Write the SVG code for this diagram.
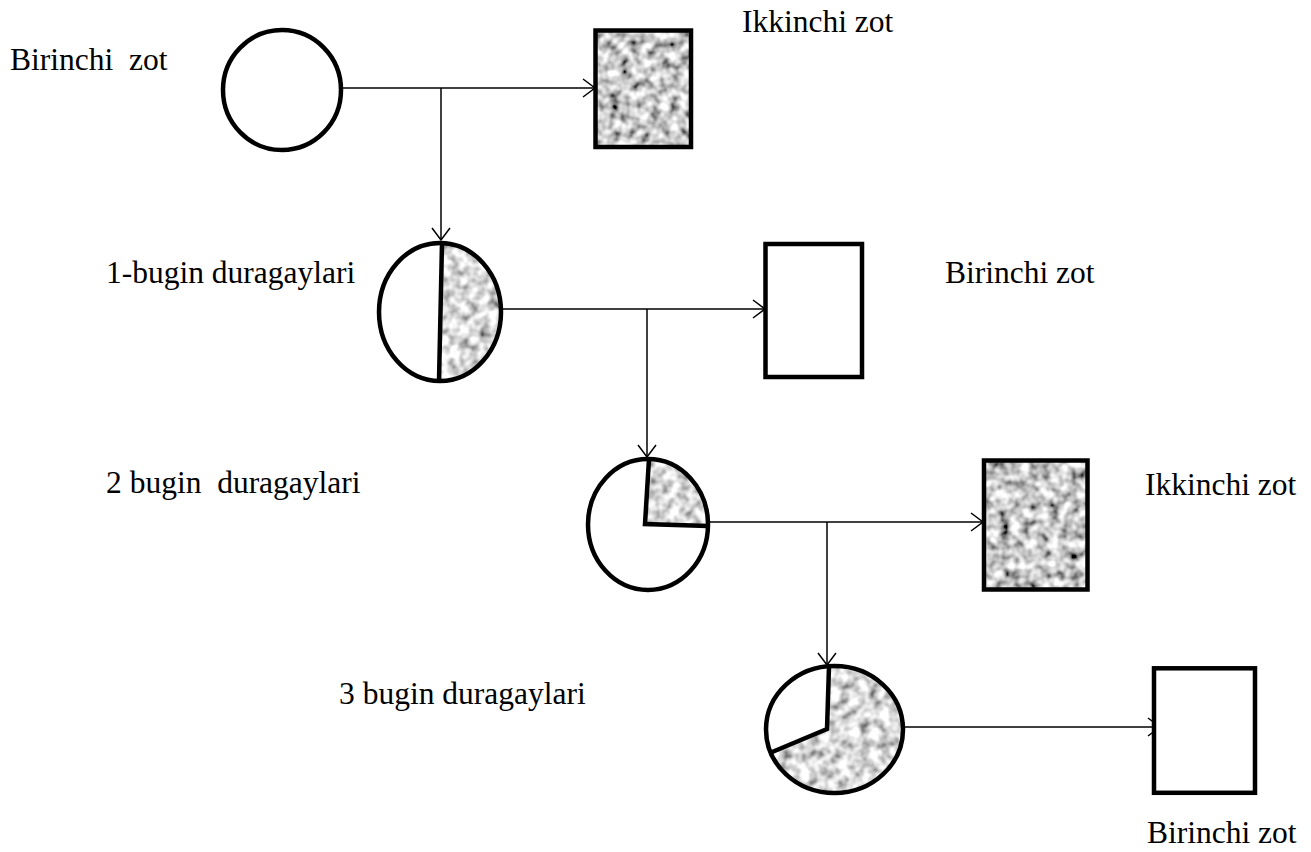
<svg xmlns="http://www.w3.org/2000/svg" width="1311" height="852" viewBox="0 0 1311 852">
  <style>
    .lbl { font-family: "Liberation Serif", "Times New Roman", serif; font-size: 31.5px; fill: #000; }
    .edge { fill: none; stroke: #000; stroke-width: 1.5; }
    .outline { fill: none; stroke: #000; stroke-width: 4.5; }
    .white { fill: #fff; stroke: #000; stroke-width: 4.5; }
    .div { fill: none; stroke: #000; stroke-width: 4.5; stroke-linejoin: miter; }
  </style>
  <defs>
    <filter id="noiseDark" x="0" y="0" width="1" height="1" filterUnits="objectBoundingBox">
      <feTurbulence type="fractalNoise" baseFrequency="0.1" numOctaves="2" seed="5" result="n"/>
      <feColorMatrix in="n" type="matrix" values="1.8 0 0 0 -0.3  1.8 0 0 0 -0.3  1.8 0 0 0 -0.3  0 0 0 0 1"/>
    </filter>
    <filter id="noiseLight" x="0" y="0" width="1" height="1" filterUnits="objectBoundingBox">
      <feTurbulence type="fractalNoise" baseFrequency="0.1" numOctaves="2" seed="9" result="n"/>
      <feColorMatrix in="n" type="matrix" values="1.6 0 0 0 -0.1  1.6 0 0 0 -0.1  1.6 0 0 0 -0.1  0 0 0 0 1"/>
    </filter>
    <pattern id="grainDark" patternUnits="userSpaceOnUse" width="1311" height="852">
      <rect width="1311" height="852" filter="url(#noiseDark)"/>
    </pattern>
    <pattern id="grainLight" patternUnits="userSpaceOnUse" width="1311" height="852">
      <rect width="1311" height="852" filter="url(#noiseLight)"/>
    </pattern>
    <marker id="arr" viewBox="-14 -10 16 20" refX="0" refY="0" markerWidth="16" markerHeight="20" markerUnits="userSpaceOnUse" orient="auto">
      <path d="M-12,-9 L0,0 L-12,9" fill="none" stroke="#000" stroke-width="1.5"/>
    </marker>
  </defs>

  <rect width="1311" height="852" fill="#fff"/>

  <g id="connectors">
    <path class="edge" d="M343,88 H595" marker-end="url(#arr)"/>
    <path class="edge" d="M441,88 V240" marker-end="url(#arr)"/>
    <path class="edge" d="M501,309 H765" marker-end="url(#arr)"/>
    <path class="edge" d="M647,309 V457" marker-end="url(#arr)"/>
    <path class="edge" d="M708,522 H983" marker-end="url(#arr)"/>
    <path class="edge" d="M827,522 V665" marker-end="url(#arr)"/>
    <path class="edge" d="M885,727 H1160" marker-end="url(#arr)"/>
  </g>

  <g id="parent1-female">
    <ellipse class="white" cx="282" cy="90" rx="59" ry="60"/>
  </g>

  <g id="parent2-male">
    <rect x="595.5" y="30.5" width="95.5" height="116.5" fill="url(#grainDark)"/>
    <rect class="outline" x="595.5" y="30.5" width="95.5" height="116.5"/>
  </g>

  <g id="f1-hybrid">
    <ellipse cx="440" cy="312" rx="61" ry="69" fill="#fff"/>
    <path d="M442,243 A61,69 0 0 1 439,381 Z" fill="url(#grainLight)"/>
    <ellipse class="outline" cx="440" cy="312" rx="61" ry="69"/>
    <path class="div" d="M442,243 L439,381"/>
  </g>

  <g id="backcross1-male">
    <rect class="white" x="765.5" y="244" width="96.5" height="133"/>
  </g>

  <g id="f2-hybrid">
    <ellipse cx="648" cy="524.5" rx="60" ry="65.5" fill="#fff"/>
    <path d="M645,524 L649,459 A60,65.5 0 0 1 708,526 Z" fill="url(#grainLight)"/>
    <ellipse class="outline" cx="648" cy="524.5" rx="60" ry="65.5"/>
    <path class="div" d="M649,459 L645,524 L708,526"/>
  </g>

  <g id="backcross2-male">
    <rect x="984" y="460.5" width="103.5" height="129" fill="url(#grainDark)"/>
    <rect class="outline" x="984" y="460.5" width="103.5" height="129"/>
  </g>

  <g id="f3-hybrid">
    <ellipse cx="834.5" cy="729.5" rx="68.5" ry="63.5" fill="#fff"/>
    <path d="M827,729 L829,666 A68.5,63.5 0 1 1 771,752.5 Z" fill="url(#grainLight)"/>
    <ellipse class="outline" cx="834.5" cy="729.5" rx="68.5" ry="63.5"/>
    <path class="div" d="M829,666 L827,729 L771,752.5"/>
  </g>

  <g id="backcross3-male">
    <rect class="white" x="1154" y="668.3" width="101" height="124.5"/>
  </g>

  <g id="labels">
    <text class="lbl" x="10" y="70" xml:space="preserve">Birinchi  zot</text>
    <text class="lbl" x="742" y="32">Ikkinchi zot</text>
    <text class="lbl" x="106" y="283">1-bugin duragaylari</text>
    <text class="lbl" x="945" y="283">Birinchi zot</text>
    <text class="lbl" x="106" y="493" xml:space="preserve">2 bugin  duragaylari</text>
    <text class="lbl" x="1145" y="495">Ikkinchi zot</text>
    <text class="lbl" x="339" y="704">3 bugin duragaylari</text>
    <text class="lbl" x="1147" y="843">Birinchi zot</text>
  </g>
</svg>
